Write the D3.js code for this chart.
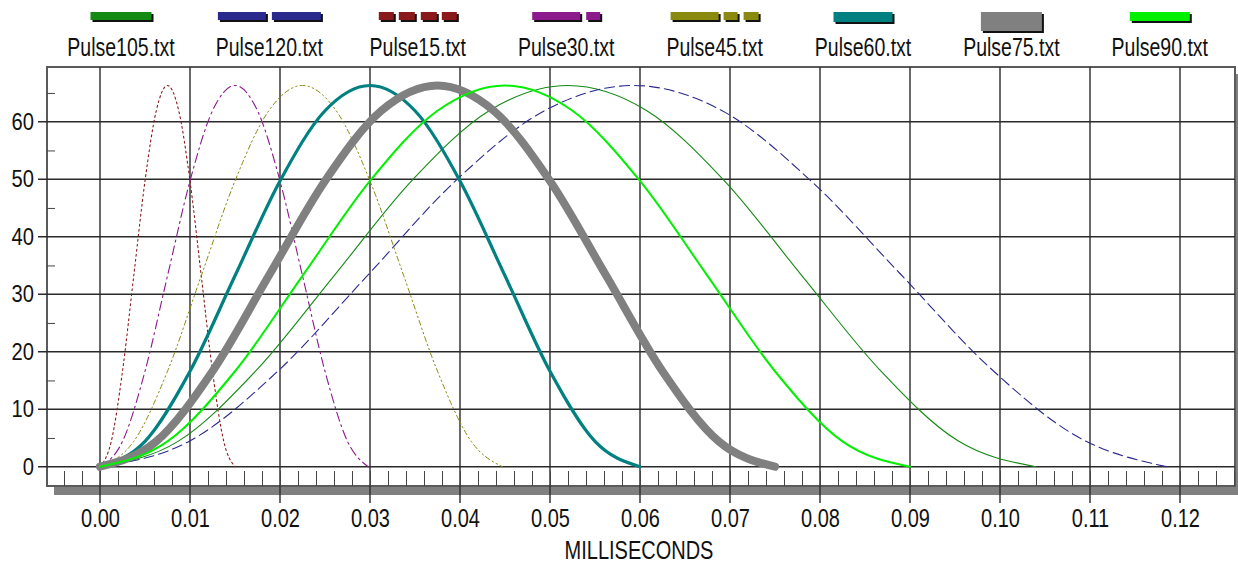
<!DOCTYPE html>
<html>
<head>
<meta charset="utf-8">
<script src="https://cdn.jsdelivr.net/npm/d3@7"></script>
<style>
  body { margin: 0; background: #fff; }
  text { font-family: "Liberation Sans", Arial, sans-serif; fill: #111; }
</style>
</head>
<body>
<svg width="1238" height="565"></svg>
<script>
// legend / series names, in drawing order
var names = ["Pulse105.txt", "Pulse120.txt", "Pulse15.txt", "Pulse30.txt",
             "Pulse45.txt", "Pulse60.txt", "Pulse75.txt", "Pulse90.txt"];

var xTicks = [0.00, 0.01, 0.02, 0.03, 0.04, 0.05, 0.06, 0.07, 0.08, 0.09, 0.10, 0.11, 0.12];
var yTicks = [0, 10, 20, 30, 40, 50, 60];
var xLabel = "MILLISECONDS";

// time (ms) and value
var t105 = [0, 0.00867, 0.01733, 0.026, 0.03467, 0.04333, 0.052, 0.06067, 0.06933, 0.078, 0.08667, 0.09533, 0.104];
var v105 = [0, 4.4, 16.7, 33.2, 49.8, 62.0, 66.3, 62.0, 49.8, 33.2, 16.8, 4.5, 0];
var t120 = [0, 0.00988, 0.01975, 0.02963, 0.0395, 0.04938, 0.05925, 0.06913, 0.079, 0.08888, 0.09875, 0.10863, 0.1185];
var v120 = [0, 4.4, 16.6, 33.1, 49.7, 61.9, 66.3, 61.9, 49.7, 33.6, 17.4, 5.2, 0];
var t15 = [0, 0.00125, 0.0025, 0.00375, 0.005, 0.00625, 0.0075, 0.00875, 0.01, 0.01125, 0.0125, 0.01375, 0.015];
var v15 = [0, 4.4, 16.6, 33.2, 49.7, 61.9, 66.3, 61.9, 49.7, 33.2, 16.6, 4.4, 0];
var t30 = [0, 0.0025, 0.005, 0.0075, 0.01, 0.0125, 0.015, 0.0175, 0.02, 0.0225, 0.025, 0.0275, 0.0298];
var v30 = [0, 4.4, 16.6, 33.2, 49.7, 61.9, 66.3, 61.9, 49.7, 33.2, 16.6, 4.4, 0];
var t45 = [0, 0.00375, 0.0075, 0.01125, 0.015, 0.01875, 0.0225, 0.02625, 0.03, 0.03375, 0.0375, 0.04125, 0.0447];
var v45 = [0, 4.4, 16.6, 33.2, 49.7, 61.9, 66.3, 61.9, 49.7, 33.2, 16.6, 4.4, 0];
var t60 = [0, 0.005, 0.01, 0.015, 0.02, 0.025, 0.03, 0.035, 0.04, 0.045, 0.05, 0.055, 0.06];
var v60 = [0, 4.4, 16.6, 33.2, 49.7, 61.9, 66.3, 61.9, 49.7, 33.2, 16.6, 4.4, 0];
var t75 = [0, 0.00625, 0.0125, 0.01875, 0.025, 0.03125, 0.0375, 0.04375, 0.05, 0.05625, 0.0625, 0.06875, 0.075];
var v75 = [0, 4.4, 16.6, 33.2, 49.7, 61.9, 66.3, 61.9, 49.7, 33.2, 16.6, 4.4, 0];
var t90 = [0, 0.0075, 0.015, 0.0225, 0.03, 0.0375, 0.045, 0.0525, 0.06, 0.0675, 0.075, 0.0825, 0.09];
var v90 = [0, 4.4, 16.6, 33.2, 49.7, 61.9, 66.3, 61.9, 49.7, 33.2, 16.6, 4.4, 0];

var times = [t105, t120, t15, t30, t45, t60, t75, t90];
var values = [v105, v120, v15, v30, v45, v60, v75, v90];

// line styles per series (same order)
var colors = ["#138a13", "#2a2a8c", "#8a1a1a", "#8c1a8c", "#8a8a10", "#008080", "#808080", "#00f000"];
var widths = [1.1, 1.1, 1.1, 1.1, 1.0, 3.2, 8, 2];
var dashes = [null, "10,5", "2,3", "9,4,2,4", "5,3,1.5,3,1.5,3", null, null, null];
// legend sample pieces [offset, length] and bar height
var swatches = [
  [[[0, 61]], 8], [[[0, 48], [54, 49]], 8], [[[0, 15], [20, 16], [42, 16], [63, 15]], 8],
  [[[0, 48], [54, 14]], 8], [[[0, 48], [53, 14], [73, 15]], 8],
  [[[0, 59]], 10], [[[0, 61]], 19], [[[0, 60]], 9]
];

var svg = d3.select("svg");
var fLeft = 47, fRight = 1235, fTop = 67, fBottom = 486;

var x = d3.scaleLinear().domain([0, 0.12]).range([100, 1180]);
var y = d3.scaleLinear().domain([0, 60]).range([466.7, 121.7]);

// shadow under frame
svg.append("rect").attr("x", fLeft + 7).attr("y", fBottom + 1).attr("width", 1238 - fLeft - 7).attr("height", 8).attr("fill", "#808080");
svg.append("rect").attr("x", fRight + 1).attr("y", fTop + 7).attr("width", 8).attr("height", fBottom - fTop + 2).attr("fill", "#808080");

svg.append("rect").attr("x", fLeft).attr("y", fTop).attr("width", fRight - fLeft).attr("height", fBottom - fTop)
  .attr("fill", "#fff").attr("stroke", "#5a5a5a").attr("stroke-width", 2);

// grid lines
svg.append("g").selectAll("line").data(yTicks).enter().append("line")
  .attr("x1", fLeft - 9).attr("x2", fRight)
  .attr("y1", function (d) { return y(d); }).attr("y2", function (d) { return y(d); })
  .attr("stroke", "#2a2a2a").attr("stroke-width", 1.4);
svg.append("g").selectAll("line").data(xTicks).enter().append("line")
  .attr("x1", function (d) { return x(d); }).attr("x2", function (d) { return x(d); })
  .attr("y1", fTop).attr("y2", fBottom + 17)
  .attr("stroke", "#2a2a2a").attr("stroke-width", 1.4);

// minor ticks
var xMinor = d3.range(-0.004, 0.1261, 0.002);
var gxm = svg.append("g").attr("transform", "translate(0," + fBottom + ")")
  .call(d3.axisBottom(x).tickValues(xMinor).tickSize(-15).tickFormat(""));
gxm.select(".domain").remove();
gxm.selectAll("line").attr("stroke", "#444");

var yMinor = [5, 15, 25, 35, 45, 55, 65];
var gym = svg.append("g").attr("transform", "translate(" + fLeft + ",0)")
  .call(d3.axisLeft(y).tickValues(yMinor).tickSize(-8).tickFormat(""));
gym.select(".domain").remove();
gym.selectAll("line").attr("stroke", "#444");

// x axis labels
var gx = svg.append("g").attr("transform", "translate(0," + fBottom + ")")
  .call(d3.axisBottom(x).tickValues(xTicks).tickSize(0).tickPadding(23).tickFormat(d3.format(".2f")));
gx.select(".domain").remove();
gx.selectAll("text").attr("font-size", 25).attr("transform", "scale(0.8,1)")
  .style("font-family", "'Liberation Sans', Arial, sans-serif").attr("fill", "#111");

// y axis labels
var gy = svg.append("g").attr("transform", "translate(" + fLeft + ",0)")
  .call(d3.axisLeft(y).tickValues(yTicks).tickSize(0).tickFormat(d3.format("d")));
gy.select(".domain").remove();
gy.selectAll("text").attr("font-size", 24).attr("x", -13 / 0.84).attr("transform", "scale(0.84,1)")
  .style("font-family", "'Liberation Sans', Arial, sans-serif").attr("fill", "#111");

svg.append("text").attr("text-anchor", "middle")
  .attr("transform", "translate(639,559) scale(0.8,1)")
  .attr("font-size", 25).text(xLabel);

// curves
svg.append("clipPath").attr("id", "clip").append("rect")
  .attr("x", fLeft).attr("y", fTop).attr("width", fRight - fLeft).attr("height", fBottom - fTop);

var line = d3.line()
  .x(function (d) { return x(d[0]); })
  .y(function (d) { return y(d[1]); })
  .curve(d3.curveMonotoneX);

var plot = svg.append("g").attr("clip-path", "url(#clip)");
names.forEach(function (n, i) {
  var pts = times[i].map(function (t, j) { return [t, values[i][j]]; });
  plot.append("path").datum(pts)
    .attr("d", line)
    .attr("fill", "none")
    .attr("stroke", colors[i])
    .attr("stroke-width", widths[i])
    .attr("stroke-dasharray", dashes[i])
    .attr("stroke-linejoin", "round")
    .attr("stroke-linecap", "round");
});

// legend
names.forEach(function (n, i) {
  var cx = 121 + 148.4 * i;
  var pieces = swatches[i][0], h = swatches[i][1];
  var total = pieces[pieces.length - 1][0] + pieces[pieces.length - 1][1];
  var g = svg.append("g").attr("transform", "translate(" + (cx - total / 2) + ",12)");
  pieces.forEach(function (p) {
    g.append("rect").attr("x", p[0] + 2).attr("y", 2).attr("width", p[1]).attr("height", h).attr("fill", "#111");
    g.append("rect").attr("x", p[0]).attr("y", 0).attr("width", p[1]).attr("height", h).attr("fill", colors[i]);
  });
  svg.append("text").attr("text-anchor", "middle")
    .attr("transform", "translate(" + cx + ",56) scale(0.78,1)")
    .attr("font-size", 25).text(n);
});
</script>
</body>
</html>
